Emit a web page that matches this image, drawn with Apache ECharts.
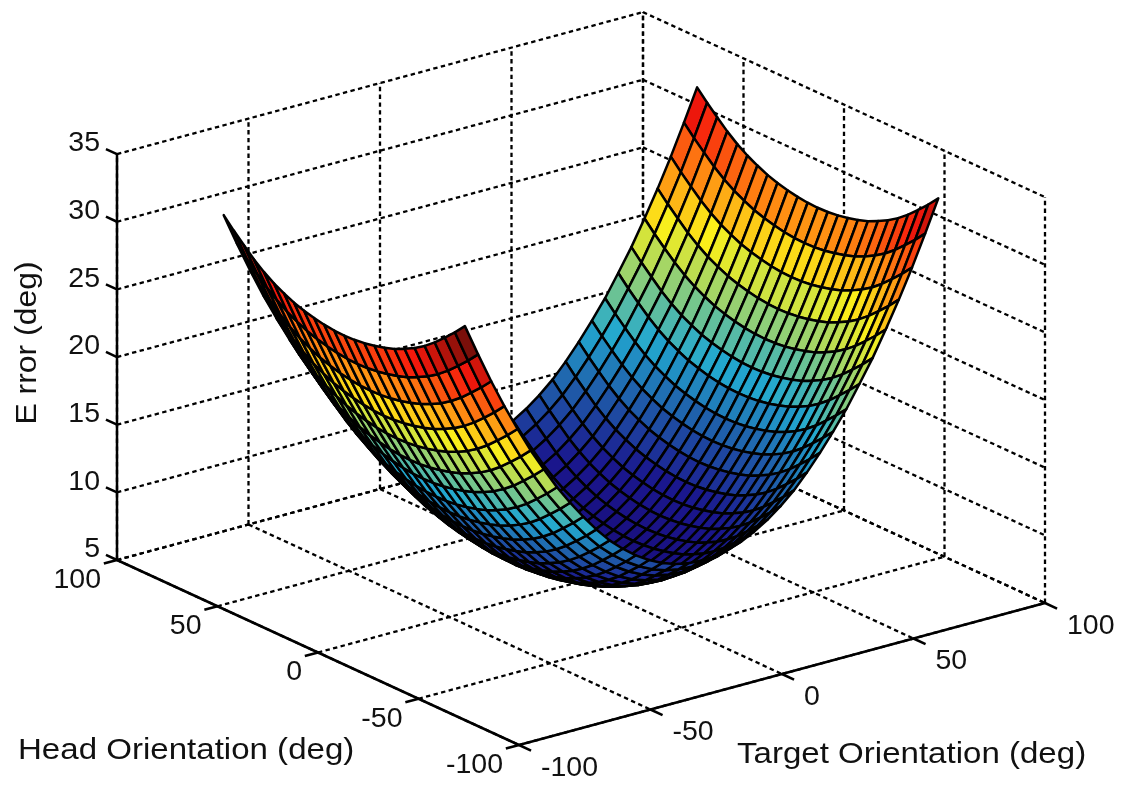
<!DOCTYPE html>
<html><head><meta charset="utf-8">
<style>html,body{margin:0;padding:0;background:#fff}#c{width:1126px;height:788px}</style>
<script src="https://cdn.jsdelivr.net/npm/echarts@6/dist/echarts.min.js"></script>
</head><body><div id="c"></div>
<script>
const targetGrid=[-90,-85,-80,-75,-70,-65,-60,-55,-50,-45,-40,-35,-30,-25,-20,-15,-10,-5,0,5,10,15,20,25,30,35,40,45,50,55,60,65,70,75,80,85,90];
const headGrid=[-60,-55,-50,-45,-40,-35,-30,-25,-20,-15,-10,-5,0,5,10,15,20,25,30,35,40,45,50,55,60];
const errorRows=[
[32.70,30.35,28.10,26.00,24.05,22.20,20.55,18.95,17.55,16.25,15.05,13.98,13.10,12.35,11.74,11.26,10.92,10.72,10.65,10.72,10.92,11.26,11.74,12.35,13.10,13.98,15.05,16.25,17.55,18.95,20.55,22.20,24.05,26.00,28.10,30.35,32.70],
[31.90,29.55,27.30,25.20,23.25,21.40,19.75,18.15,16.75,15.45,14.25,13.18,12.30,11.55,10.94,10.46,10.12,9.92,9.85,9.92,10.12,10.46,10.94,11.55,12.30,13.18,14.25,15.45,16.75,18.15,19.75,21.40,23.25,25.20,27.30,29.55,31.90],
[31.17,28.82,26.57,24.47,22.52,20.67,19.02,17.42,16.02,14.72,13.52,12.45,11.57,10.82,10.21,9.73,9.39,9.19,9.12,9.19,9.39,9.73,10.21,10.82,11.57,12.45,13.52,14.72,16.02,17.42,19.02,20.67,22.52,24.47,26.57,28.82,31.17],
[30.47,28.12,25.87,23.77,21.82,19.97,18.32,16.72,15.32,14.02,12.82,11.75,10.87,10.12,9.51,9.03,8.69,8.49,8.42,8.49,8.69,9.03,9.51,10.12,10.87,11.75,12.82,14.02,15.32,16.72,18.32,19.97,21.82,23.77,25.87,28.12,30.47],
[29.87,27.52,25.27,23.17,21.22,19.37,17.72,16.12,14.72,13.42,12.22,11.15,10.27,9.52,8.91,8.43,8.09,7.89,7.82,7.89,8.09,8.43,8.91,9.52,10.27,11.15,12.22,13.42,14.72,16.12,17.72,19.37,21.22,23.17,25.27,27.52,29.87],
[29.37,27.02,24.77,22.67,20.72,18.87,17.22,15.62,14.22,12.92,11.72,10.65,9.77,9.02,8.41,7.93,7.59,7.39,7.32,7.39,7.59,7.93,8.41,9.02,9.77,10.65,11.72,12.92,14.22,15.62,17.22,18.87,20.72,22.67,24.77,27.02,29.37],
[28.97,26.62,24.37,22.27,20.32,18.47,16.82,15.22,13.82,12.52,11.32,10.25,9.37,8.62,8.01,7.53,7.19,6.99,6.92,6.99,7.19,7.53,8.01,8.62,9.37,10.25,11.32,12.52,13.82,15.22,16.82,18.47,20.32,22.27,24.37,26.62,28.97],
[28.62,26.27,24.02,21.92,19.97,18.12,16.47,14.87,13.47,12.17,10.97,9.90,9.02,8.27,7.66,7.18,6.84,6.64,6.57,6.64,6.84,7.18,7.66,8.27,9.02,9.90,10.97,12.17,13.47,14.87,16.47,18.12,19.97,21.92,24.02,26.27,28.62],
[28.37,26.02,23.77,21.67,19.72,17.87,16.22,14.62,13.22,11.92,10.72,9.65,8.77,8.02,7.41,6.93,6.59,6.39,6.32,6.39,6.59,6.93,7.41,8.02,8.77,9.65,10.72,11.92,13.22,14.62,16.22,17.87,19.72,21.67,23.77,26.02,28.37],
[28.17,25.82,23.57,21.47,19.52,17.67,16.02,14.42,13.02,11.72,10.52,9.45,8.57,7.82,7.21,6.73,6.39,6.19,6.12,6.19,6.39,6.73,7.21,7.82,8.57,9.45,10.52,11.72,13.02,14.42,16.02,17.67,19.52,21.47,23.57,25.82,28.17],
[28.02,25.67,23.42,21.32,19.37,17.52,15.87,14.27,12.87,11.57,10.37,9.30,8.42,7.67,7.06,6.58,6.24,6.04,5.97,6.04,6.24,6.58,7.06,7.67,8.42,9.30,10.37,11.57,12.87,14.27,15.87,17.52,19.37,21.32,23.42,25.67,28.02],
[27.93,25.58,23.33,21.23,19.28,17.43,15.78,14.18,12.78,11.48,10.28,9.21,8.33,7.58,6.97,6.49,6.15,5.95,5.88,5.95,6.15,6.49,6.97,7.58,8.33,9.21,10.28,11.48,12.78,14.18,15.78,17.43,19.28,21.23,23.33,25.58,27.93],
[27.90,25.55,23.30,21.20,19.25,17.40,15.75,14.15,12.75,11.45,10.25,9.18,8.30,7.55,6.94,6.46,6.12,5.92,5.85,5.92,6.12,6.46,6.94,7.55,8.30,9.18,10.25,11.45,12.75,14.15,15.75,17.40,19.25,21.20,23.30,25.55,27.90],
[27.93,25.58,23.33,21.23,19.28,17.43,15.78,14.18,12.78,11.48,10.28,9.21,8.33,7.58,6.97,6.49,6.15,5.95,5.88,5.95,6.15,6.49,6.97,7.58,8.33,9.21,10.28,11.48,12.78,14.18,15.78,17.43,19.28,21.23,23.33,25.58,27.93],
[28.02,25.67,23.42,21.32,19.37,17.52,15.87,14.27,12.87,11.57,10.37,9.30,8.42,7.67,7.06,6.58,6.24,6.04,5.97,6.04,6.24,6.58,7.06,7.67,8.42,9.30,10.37,11.57,12.87,14.27,15.87,17.52,19.37,21.32,23.42,25.67,28.02],
[28.17,25.82,23.57,21.47,19.52,17.67,16.02,14.42,13.02,11.72,10.52,9.45,8.57,7.82,7.21,6.73,6.39,6.19,6.12,6.19,6.39,6.73,7.21,7.82,8.57,9.45,10.52,11.72,13.02,14.42,16.02,17.67,19.52,21.47,23.57,25.82,28.17],
[28.37,26.02,23.77,21.67,19.72,17.87,16.22,14.62,13.22,11.92,10.72,9.65,8.77,8.02,7.41,6.93,6.59,6.39,6.32,6.39,6.59,6.93,7.41,8.02,8.77,9.65,10.72,11.92,13.22,14.62,16.22,17.87,19.72,21.67,23.77,26.02,28.37],
[28.62,26.27,24.02,21.92,19.97,18.12,16.47,14.87,13.47,12.17,10.97,9.90,9.02,8.27,7.66,7.18,6.84,6.64,6.57,6.64,6.84,7.18,7.66,8.27,9.02,9.90,10.97,12.17,13.47,14.87,16.47,18.12,19.97,21.92,24.02,26.27,28.62],
[28.97,26.62,24.37,22.27,20.32,18.47,16.82,15.22,13.82,12.52,11.32,10.25,9.37,8.62,8.01,7.53,7.19,6.99,6.92,6.99,7.19,7.53,8.01,8.62,9.37,10.25,11.32,12.52,13.82,15.22,16.82,18.47,20.32,22.27,24.37,26.62,28.97],
[29.37,27.02,24.77,22.67,20.72,18.87,17.22,15.62,14.22,12.92,11.72,10.65,9.77,9.02,8.41,7.93,7.59,7.39,7.32,7.39,7.59,7.93,8.41,9.02,9.77,10.65,11.72,12.92,14.22,15.62,17.22,18.87,20.72,22.67,24.77,27.02,29.37],
[29.87,27.52,25.27,23.17,21.22,19.37,17.72,16.12,14.72,13.42,12.22,11.15,10.27,9.52,8.91,8.43,8.09,7.89,7.82,7.89,8.09,8.43,8.91,9.52,10.27,11.15,12.22,13.42,14.72,16.12,17.72,19.37,21.22,23.17,25.27,27.52,29.87],
[30.47,28.12,25.87,23.77,21.82,19.97,18.32,16.72,15.32,14.02,12.82,11.75,10.87,10.12,9.51,9.03,8.69,8.49,8.42,8.49,8.69,9.03,9.51,10.12,10.87,11.75,12.82,14.02,15.32,16.72,18.32,19.97,21.82,23.77,25.87,28.12,30.47],
[31.17,28.82,26.57,24.47,22.52,20.67,19.02,17.42,16.02,14.72,13.52,12.45,11.57,10.82,10.21,9.73,9.39,9.19,9.12,9.19,9.39,9.73,10.21,10.82,11.57,12.45,13.52,14.72,16.02,17.42,19.02,20.67,22.52,24.47,26.57,28.82,31.17],
[31.90,29.55,27.30,25.20,23.25,21.40,19.75,18.15,16.75,15.45,14.25,13.18,12.30,11.55,10.94,10.46,10.12,9.92,9.85,9.92,10.12,10.46,10.94,11.55,12.30,13.18,14.25,15.45,16.75,18.15,19.75,21.40,23.25,25.20,27.30,29.55,31.90],
[32.70,30.35,28.10,26.00,24.05,22.20,20.55,18.95,17.55,16.25,15.05,13.98,13.10,12.35,11.74,11.26,10.92,10.72,10.65,10.72,10.92,11.26,11.74,12.35,13.10,13.98,15.05,16.25,17.55,18.95,20.55,22.20,24.05,26.00,28.10,30.35,32.70]
];
const targetTicks=[-100,-50,0,50,100];
const headTicks=[-100,-50,0,50,100];
const zTicks=[5,10,15,20,25,30,35];
const axisNames=['Head Orientation (deg)','Target Orientation (deg)','E rror (deg)'];
const colorStops=['#190e7c','#1a178e','#1f5aa8','#22a8d0','#8fcf78','#fbf01a','#ff8612','#f5180c','#7a0f0a'];

// Orthographic view of the data box onto the page (MATLAB-style 3-D axes)
const view={x0:581,y0:581.5,tx:2.63,ty:-0.71,hx:-2.01,hy:-0.925,zy:-13.53,zBase:5};
const project=(t,h,z)=>[view.x0+view.tx*t+view.hx*h, view.y0+view.ty*t+view.hy*h+view.zy*(z-view.zBase)];
const ink='#000', font='"Liberation Sans",Arial,sans-serif';

// Surface cells, far to near
const zAll=errorRows.flat(), zMin=Math.min(...zAll), zMax=Math.max(...zAll);
const cells=[];
for(let i=targetGrid.length-2;i>=0;i--){
  for(let j=headGrid.length-2;j>=0;j--){
    cells.push([targetGrid[i],targetGrid[i+1],headGrid[j],headGrid[j+1],
      errorRows[j][i],errorRows[j][i+1],errorRows[j+1][i+1],errorRows[j+1][i]]);
  }
}
// Box: [t1,h1,z1,t2,h2,z2,solid]
const zLo=zTicks[0], zHi=zTicks[zTicks.length-1];
const tLo=targetTicks[0], tHi=targetTicks[targetTicks.length-1];
const hLo=headTicks[0], hHi=headTicks[headTicks.length-1];
const segs=[];
zTicks.forEach(z=>{segs.push([tLo,hHi,z,tHi,hHi,z,0]);segs.push([tHi,hHi,z,tHi,hLo,z,0]);});
targetTicks.forEach(t=>{segs.push([t,hHi,zLo,t,hHi,zHi,0]);segs.push([t,hHi,zLo,t,hLo,zLo,0]);});
headTicks.forEach(h=>{segs.push([tHi,h,zLo,tHi,h,zHi,0]);segs.push([tLo,h,zLo,tHi,h,zLo,0]);});
segs.push([tLo,hHi,zLo,tLo,hHi,zHi,1]);
segs.push([tLo,hHi,zLo,tLo,hLo,zLo,1]);
segs.push([tLo,hLo,zLo,tHi,hLo,zLo,1]);
zTicks.forEach(z=>segs.push([tLo,hHi,z,tLo,hHi+5.5,z,1]));
headTicks.forEach(h=>segs.push([tLo,h,zLo,tLo-5,h,zLo,1]));
targetTicks.forEach(t=>segs.push([t,hLo,zLo,t,hLo-6,zLo,1]));
// Tick labels: [t,h,z,text,dx,dy,align]
const labels=[];
zTicks.forEach(z=>labels.push([tLo,hHi,z,String(z),-17,-10.5,'right']));
headTicks.forEach(h=>labels.push([tLo,h,zLo,String(h),-16,20,'right']));
targetTicks.forEach(t=>labels.push([t,hLo,zLo,String(t),22,23,'left']));
// Axis names: [name,x,y,rotation,align,stretch]
const names=[[axisNames[0],18,751,0,'left',1.14],[axisNames[1],737,755,0,'left',1.14],[axisNames[2],28,343,Math.PI/2,'center',1.1]];

const chart=echarts.init(document.getElementById('c'),null,{renderer:'canvas'});
chart.setOption({
  animation:false,backgroundColor:'#fff',tooltip:{show:false},
  grid:{left:0,right:0,top:0,bottom:0},
  xAxis:{type:'value',min:0,max:1126,show:false},
  yAxis:{type:'value',min:0,max:788,inverse:true,show:false},
  series:[
    {type:'custom',name:'box',coordinateSystem:'cartesian2d',data:segs,z:1,silent:true,clip:false,
     renderItem(p,api){
       const a=api.coord(project(api.value(0),api.value(1),api.value(2)));
       const b=api.coord(project(api.value(3),api.value(4),api.value(5)));
       const solid=api.value(6)===1;
       return {type:'line',shape:{x1:a[0],y1:a[1],x2:b[0],y2:b[1]},
         style:{stroke:ink,lineWidth:solid?2.5:2.3,lineDash:solid?null:[4.4,3.4],fill:null}};
     }},
    {type:'custom',name:'Error',coordinateSystem:'cartesian2d',data:cells,z:2,silent:true,clip:false,
     renderItem(p,api){
       const t0=api.value(0),t1=api.value(1),h0=api.value(2),h1=api.value(3);
       const c=[[t0,h0,api.value(4)],[t1,h0,api.value(5)],[t1,h1,api.value(6)],[t0,h1,api.value(7)]];
       const pts=c.map(q=>api.coord(project(q[0],q[1],q[2])));
       const col=echarts.color.lerp((api.value(4)-zMin)/(zMax-zMin),colorStops);
       return {type:'polygon',z2:p.dataIndex,shape:{points:pts},
         style:{fill:col,stroke:ink,lineWidth:2.5,lineJoin:'round'}};
     }},
    {type:'custom',name:'labels',coordinateSystem:'cartesian2d',data:labels,z:3,silent:true,clip:false,
     dimensions:['t','h','z','text','dx','dy','align'],
     renderItem(p,api){
       const r=labels[p.dataIndex];
       const a=api.coord(project(r[0],r[1],r[2]));
       return {type:'text',x:a[0]+r[4],y:a[1]+r[5],
         style:{text:r[3],fill:'#111',font:'28.5px '+font,align:r[6],verticalAlign:'middle'}};
     }},
    {type:'custom',name:'names',coordinateSystem:'cartesian2d',data:names,z:3,silent:true,clip:false,
     dimensions:['name','x','y','rot','align','stretch'],
     renderItem(p,api){
       const r=names[p.dataIndex];
       const a=api.coord([r[1],r[2]]);
       return {type:'text',x:a[0],y:a[1],rotation:r[3],scaleX:r[5],
         style:{text:r[0],fill:'#111',font:'29px '+font,align:r[4],verticalAlign:'middle'}};
     }}
  ]
});
</script></body></html>
